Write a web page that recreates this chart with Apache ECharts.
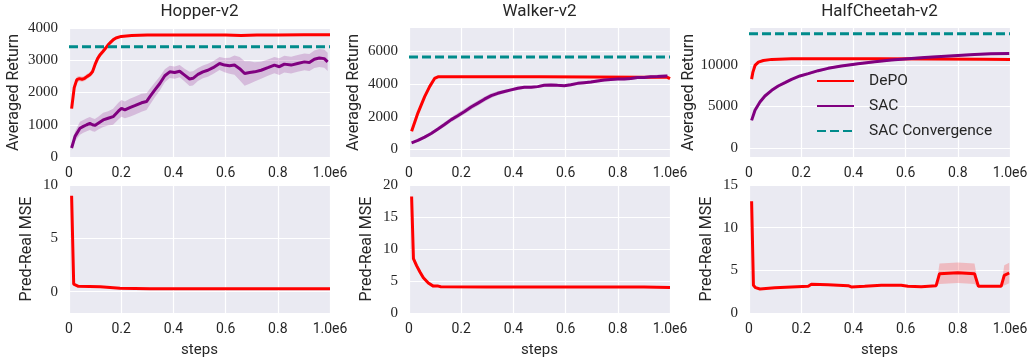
<!DOCTYPE html>
<html>
<head>
<meta charset="utf-8">
<script src="https://cdn.jsdelivr.net/npm/echarts@6/dist/echarts.min.js"></script>
<style>
  html, body { margin: 0; padding: 0; background: #fff; }
  #chart { width: 1031px; height: 364px; }
</style>
</head>
<body>
<div id="chart"></div>
<script>
// steps are in units of 1e6

// ---- Hopper-v2, averaged return
const hopperDepoSteps = [0.01,0.02,0.03,0.04,0.05,0.06,0.07,0.08,0.09,0.10,0.11,0.12,0.13,0.14,0.15,0.16,0.17,0.18,0.20,0.24,0.30,0.40,0.50,0.60,0.66,0.72,0.80,0.90,1.00]
const hopperDepoReturn = [1500,2150,2400,2430,2410,2440,2500,2550,2640,2870,3060,3180,3270,3370,3480,3560,3640,3690,3740,3770,3780,3785,3785,3780,3770,3780,3785,3790,3790]
const hopperDepoSpread = [60,100,90,80,80,80,80,80,90,90,90,80,80,70,60,50,40,30,20,10,10,10,10,10,10,10,10,10,10]

const hopperSacSteps = [0.01,0.023,0.042,0.055,0.068,0.08,0.09,0.099,0.112,0.131,
  0.15,0.169,0.189,0.201,0.214,0.233,0.252,0.278,0.297,0.31,
  0.329,0.348,0.367,0.386,0.405,0.424,0.443,0.462,0.475,0.494,
  0.513,0.532,0.552,0.577,0.596,0.615,0.634,0.654,0.673,0.692,
  0.711,0.736,0.762,0.787,0.806,0.825,0.851,0.876,
  0.902,0.921,0.94,0.959,0.978,0.991]
const hopperSacReturn = [280,640,890,950,1000,1040,1000,980,1050,1150,
  1200,1250,1420,1510,1460,1530,1590,1680,1720,1870,
  2080,2280,2520,2640,2620,2660,2540,2420,2440,2560,
  2640,2690,2770,2900,2850,2830,2850,2740,2590,2620,
  2640,2690,2770,2850,2800,2880,2850,2900,
  2950,2930,3030,3070,3050,2950]
const hopperSacSpread = [80,150,200,200,200,200,200,200,200,220,
  220,250,260,260,260,280,280,280,260,250,
  230,220,200,190,190,190,200,220,220,200,
  200,200,200,200,220,250,300,360,380,350,
  300,260,250,250,260,260,260,260,
  260,260,270,280,280,280]
const hopperConvergence = 3420

// ---- Walker-v2, averaged return
const walkerDepoSteps = [0.01,0.034,0.06,0.079,0.098,0.111,0.3,0.5,0.7,0.9,0.99,1.0]
const walkerDepoReturn = [1110,2220,3230,3840,4340,4440,4440,4440,4430,4420,4410,4330]
const walkerDepoSpread = [60,80,80,60,40,20,10,10,10,10,10,10]

const walkerSacSteps = [0.01,0.034,0.06,0.085,0.111,0.136,0.162,0.187,0.213,0.238,
  0.264,0.289,0.315,0.34,0.366,0.391,0.417,0.442,0.468,0.493,
  0.518,0.544,0.569,0.595,0.62,0.646,0.671,0.697,0.722,0.748,
  0.773,0.799,0.824,0.85,0.875,0.901,0.926,0.952,0.99]
const walkerSacReturn = [400,545,750,970,1250,1520,1820,2060,2320,2590,
  2830,3070,3290,3430,3540,3640,3740,3800,3800,3840,
  3920,3940,3920,3900,3960,4040,4080,4120,4180,4240,
  4280,4300,4300,4340,4400,4400,4440,4460,4490]
const walkerSacSpread = [40,60,80,100,120,140,150,160,160,160,
  160,150,140,120,110,100,100,90,90,90,
  90,90,90,90,90,90,90,90,90,90,
  90,90,90,90,90,90,100,100,100]
const walkerConvergence = 5650

// ---- HalfCheetah-v2, averaged return
const cheetahDepoSteps = [0.01,0.015,0.023,0.036,0.055,0.087,0.163,0.3,0.5,0.7,0.9,1.0]
const cheetahDepoReturn = [8300,9150,9950,10350,10550,10680,10750,10760,10760,10740,10700,10680]
const cheetahDepoSpread = [100,100,80,60,40,30,20,20,20,20,20,20]

const cheetahSacSteps = [0.01,0.023,0.042,0.061,0.087,0.112,0.138,0.163,0.195,0.227,0.265,0.303,
  0.354,0.418,0.482,0.545,0.609,0.673,0.736,0.8,0.864,0.927,0.997]
const cheetahSacReturn = [3330,4540,5540,6270,6950,7470,7870,8270,8680,8960,9320,9600,
  9880,10160,10400,10600,10760,10920,11040,11160,11280,11360,11400]
const cheetahSacSpread = [100,150,150,150,150,150,150,150,150,150,150,150,
  150,150,150,150,150,150,150,150,150,150,150]
const cheetahConvergence = 13780

// ---- Pred-Real MSE (DePO)
const hopperMseSteps = [0.01,0.018,0.036,0.12,0.195,0.31,0.5,0.7,0.9,1.0]
const hopperMse = [9.0,0.7,0.5,0.45,0.32,0.28,0.28,0.28,0.28,0.28]
const hopperMseSpread = [0,0,0,0,0,0,0,0,0,0]

const walkerMseSteps = [0.01,0.017,0.029,0.042,0.055,0.074,0.093,0.112,0.122,0.3,0.5,0.7,0.9,1.0]
const walkerMse = [18.2,8.5,7.4,6.4,5.5,4.7,4.2,4.2,4.1,4.05,4.05,4.05,4.05,4.0]
const walkerMseSpread = [0.2,0.4,0.4,0.4,0.3,0.3,0.2,0.1,0.1,0.05,0.05,0.05,0.05,0.05]

const cheetahMseSteps = [0.01,0.017,0.025,0.042,0.099,0.163,0.227,0.239,0.303,0.38,0.392,0.443,0.507,
  0.583,0.609,0.66,0.666,0.717,0.73,0.8,0.864,0.879,0.966,0.978,0.997]
const cheetahMse = [13.1,3.24,2.97,2.81,2.97,3.05,3.13,3.36,3.32,3.2,3.05,3.13,3.24,
  3.24,3.13,3.09,3.2,3.2,4.61,4.73,4.61,3.13,3.13,4.41,4.69]
const cheetahMseSpread = [0,0,0,0,0,0,0,0,0,0,0,0,0,
  0,0,0,0,0,1.2,1.2,1.2,0.1,0,1.2,1.2]

// ---- axes
const hopperReturnTicks = [0, 1000, 2000, 3000, 4000]
const walkerReturnTicks = [0, 2000, 4000, 6000]
const cheetahReturnTicks = [0, 5000, 10000]
const hopperMseTicks = [0, 5, 10]
const walkerMseTicks = [0, 5, 10, 15, 20]
const cheetahMseTicks = [0, 5, 10, 15]

const RED = '#ff0000'
const PURPLE = '#800080'
const TEAL = '#008b8b'
const INK = '#262626'
const SANS = 'Roboto'
const SERIF = 'Liberation Serif'

const colLeft = [69, 409, 749]
const colWidth = 261
const rowTop = [28, 185]
const rowHeight = [129, 128]

const panels = [
  { row: 0, col: 0, title: 'Hopper-v2', min: 0, max: 4000, ticks: hopperReturnTicks, yName: 'Averaged Return',
    lines: [
      { name: 'DePO', xs: hopperDepoSteps, ys: hopperDepoReturn, sp: hopperDepoSpread, color: RED },
      { name: 'SAC', xs: hopperSacSteps, ys: hopperSacReturn, sp: hopperSacSpread, color: PURPLE },
    ], conv: hopperConvergence },
  { row: 0, col: 1, title: 'Walker-v2', min: -470, max: 7430, ticks: walkerReturnTicks, yName: 'Averaged Return',
    lines: [
      { name: 'DePO', xs: walkerDepoSteps, ys: walkerDepoReturn, sp: walkerDepoSpread, color: RED },
      { name: 'SAC', xs: walkerSacSteps, ys: walkerSacReturn, sp: walkerSacSpread, color: PURPLE },
    ], conv: walkerConvergence },
  { row: 0, col: 2, title: 'HalfCheetah-v2', min: -1080, max: 14460, ticks: cheetahReturnTicks, yName: 'Averaged Return',
    lines: [
      { name: 'DePO', xs: cheetahDepoSteps, ys: cheetahDepoReturn, sp: cheetahDepoSpread, color: RED },
      { name: 'SAC', xs: cheetahSacSteps, ys: cheetahSacReturn, sp: cheetahSacSpread, color: PURPLE },
    ], conv: cheetahConvergence },
  { row: 1, col: 0, min: -2, max: 10, ticks: hopperMseTicks, yName: 'Pred-Real MSE',
    lines: [{ name: 'DePO', xs: hopperMseSteps, ys: hopperMse, sp: hopperMseSpread, color: RED }] },
  { row: 1, col: 1, min: 0, max: 20, ticks: walkerMseTicks, yName: 'Pred-Real MSE',
    lines: [{ name: 'DePO', xs: walkerMseSteps, ys: walkerMse, sp: walkerMseSpread, color: RED }] },
  { row: 1, col: 2, min: 0, max: 15, ticks: cheetahMseTicks, yName: 'Pred-Real MSE',
    lines: [{ name: 'DePO', xs: cheetahMseSteps, ys: cheetahMse, sp: cheetahMseSpread, color: RED }] },
]

function band(i, xs, ys, sp, color) {
  return {
    type: 'custom',
    xAxisIndex: i,
    yAxisIndex: i,
    silent: true,
    z: 1,
    data: xs.map((x, k) => [x, ys[k]]),
    renderItem: function (params, api) {
      if (params.dataIndex !== 0) return
      const up = [], lo = []
      xs.forEach((x, k) => {
        up.push(api.coord([x, ys[k] + sp[k]]))
        lo.push(api.coord([x, ys[k] - sp[k]]))
      })
      return {
        type: 'polygon',
        shape: { points: up.concat(lo.reverse()) },
        style: { fill: color, opacity: 0.2 },
      }
    },
  }
}

function line(i, name, xs, ys, color, dashed) {
  return {
    type: 'line',
    name: name,
    xAxisIndex: i,
    yAxisIndex: i,
    data: xs.map((x, k) => [x, ys[k]]),
    symbol: 'none',
    z: 3,
    lineStyle: { color: color, width: 3, type: dashed ? [9, 4] : 'solid' },
    itemStyle: { color: color },
  }
}

const grids = [], xAxes = [], yAxes = [], series = [], graphics = []
panels.forEach((p, i) => {
  grids.push({
    left: colLeft[p.col], top: rowTop[p.row], width: colWidth, height: rowHeight[p.row],
    show: true, backgroundColor: '#eaeaf2', borderWidth: 0,
  })
  xAxes.push({
    type: 'value', gridIndex: i, min: 0, max: 1, interval: 0.2,
    axisLine: { show: false }, axisTick: { show: false },
    splitLine: { show: true, lineStyle: { color: '#fff', width: 1.2 } },
    axisLabel: {
      color: INK, fontFamily: SANS, fontSize: 14, margin: 9,
      showMinLabel: true, showMaxLabel: true,
      formatter: v => (v === 0 ? '0' : v === 1 ? '1.0e6' : v.toFixed(1)),
    },
    name: p.row === 1 ? 'steps' : '',
    nameLocation: 'middle', nameGap: 30,
    nameTextStyle: { color: INK, fontFamily: SANS, fontSize: 15 },
  })
  yAxes.push({
    type: 'value', gridIndex: i, min: p.min, max: p.max,
    axisLine: { show: false },
    axisTick: { show: false, customValues: p.ticks },
    splitLine: { show: true, lineStyle: { color: '#fff', width: 1.2 } },
    axisLabel: {
      customValues: p.ticks, color: INK, fontFamily: SERIF, fontSize: 15, margin: 11,
      formatter: v => String(v),
    },
    name: p.yName, nameLocation: 'middle', nameGap: p.row === 0 ? 47 : 34,
    nameTextStyle: { color: INK, fontFamily: SANS, fontSize: 16 },
  })
  p.lines.forEach(l => {
    if (l.sp.some(s => s > 0)) series.push(band(i, l.xs, l.ys, l.sp, l.color))
  })
  p.lines.forEach(l => series.push(line(i, l.name, l.xs, l.ys, l.color, false)))
  if (p.conv != null) {
    series.push(line(i, 'SAC Convergence', [0, 1], [p.conv, p.conv], TEAL, true))
  }
  if (p.title) {
    graphics.push({
      type: 'text', x: colLeft[p.col] + colWidth / 2, y: 12,
      style: { text: p.title, fontFamily: SANS, fontSize: 17, fill: INK, align: 'center', verticalAlign: 'middle' },
    })
  }
})

const chart = echarts.init(document.getElementById('chart'), null, { renderer: 'canvas' })
chart.setOption({
  animation: false,
  backgroundColor: '#fff',
  grid: grids,
  xAxis: xAxes,
  yAxis: yAxes,
  series: series,
  graphic: graphics,
  legend: {
    data: ['DePO', 'SAC', 'SAC Convergence'],
    orient: 'vertical',
    left: 816, top: 72, padding: 0,
    itemWidth: 37, itemHeight: 18, itemGap: 7,
    itemStyle: { opacity: 0 },
    textStyle: { color: INK, fontFamily: SANS, fontSize: 15.5, lineHeight: 18, padding: [0, 0, 0, 10] },
  },
})
</script>
</body>
</html>
